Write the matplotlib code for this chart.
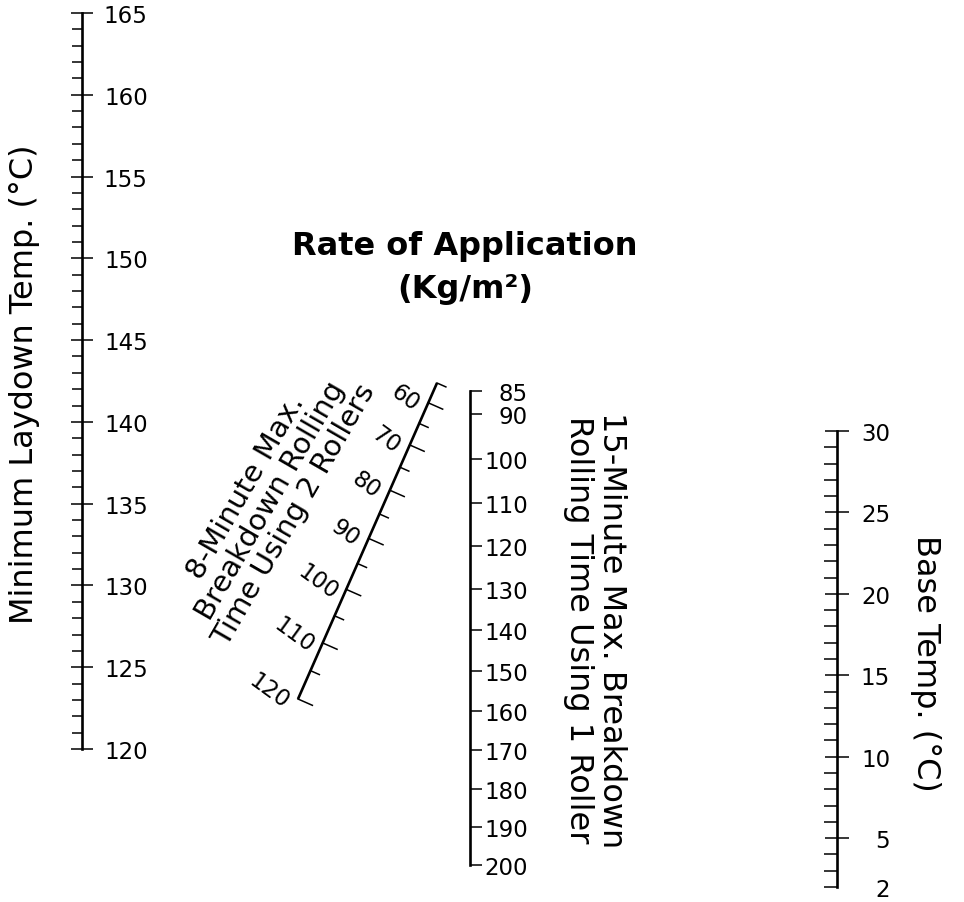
import numpy as np
import matplotlib.pyplot as plt
from matplotlib.ticker import FixedLocator, FuncFormatter

# left scale: minimum laydown temperature (C)
laydown_major = [120, 125, 130, 135, 140, 145, 150, 155, 160, 165]
laydown_minor = list(range(120, 166))
# right scale: base temperature (C)
base_major = [5, 10, 15, 20, 25, 30]
base_minor = list(range(2, 31))
# middle scale: 15-minute rolling time, 1 roller
roll1_ticks = [85, 90, 100, 110, 120, 130, 140, 150, 160, 170, 180, 190, 200]
# slanted scale: 8-minute rolling time, 2 rollers
roll2_major = [60, 70, 80, 90, 100, 110, 120]
roll2_minor = [55, 65, 75, 85, 95, 105, 115]

W, H = 964, 903
fig = plt.figure(figsize=(W / 100, H / 100), dpi=100)
fig.patch.set_facecolor('white')

TICK_FS = 16.5
TITLE_FS = 23


def vscale(x, ytop, ybot):
    # zero-width axes; only the left spine is kept as the scale line
    ax = fig.add_axes([x / W, 1 - ybot / H, 0.0001, (ybot - ytop) / H])
    ax.set_facecolor('none')
    for s in ['top', 'right', 'bottom']:
        ax.spines[s].set_visible(False)
    ax.spines['left'].set_linewidth(1.9)
    ax.set_xticks([])
    return ax


def right_align(ax, which='major'):
    ticks = ax.yaxis.get_major_ticks() if which == 'major' else ax.yaxis.get_minor_ticks()
    for t in ticks:
        t.label2.set_horizontalalignment('right')


# ---- left scale
ax1 = vscale(82, 14, 750)
ax1.set_ylim(min(laydown_major), max(laydown_major))
ax1.yaxis.set_major_locator(FixedLocator(laydown_major))
ax1.yaxis.set_minor_locator(FixedLocator(laydown_minor))
ax1.tick_params(axis='y', which='major', direction='inout', length=16.5, width=1.1,
                left=True, right=False, labelleft=False, labelright=True,
                labelsize=TICK_FS, pad=39)
ax1.tick_params(axis='y', which='minor', direction='out', length=7.2, width=1.1,
                left=True, right=False)
right_align(ax1)

# ---- right scale
ax3 = vscale(837, 432, 888)
ax3.set_ylim(min(base_minor), max(base_minor))
ax3.yaxis.set_major_locator(FixedLocator(base_major))
ax3.yaxis.set_minor_locator(FixedLocator(base_minor))
ax3.yaxis.set_minor_formatter(FuncFormatter(lambda v, p: f'{v:g}' if v == base_minor[0] else ''))
ax3.tick_params(axis='y', which='major', direction='inout', length=17.3, width=1.1,
                left=True, right=False, labelleft=False, labelright=True,
                labelsize=TICK_FS, pad=29.5)
ax3.tick_params(axis='y', which='minor', direction='out', length=9.4, width=1.1,
                left=True, right=False, labelleft=False, labelright=True,
                labelsize=TICK_FS, pad=28.8)
right_align(ax3)
right_align(ax3, 'minor')

# ---- middle scale (slightly non-linear)
ax2 = vscale(470, 392, 866)
ax2.set_yscale('function', functions=(lambda v: np.power(np.abs(v), 0.75),
                                      lambda v: np.power(np.abs(v), 4 / 3)))
ax2.set_ylim(max(roll1_ticks), min(roll1_ticks))
ax2.yaxis.set_major_locator(FixedLocator(roll1_ticks))
ax2.yaxis.set_minor_locator(FixedLocator([]))
ax2.tick_params(axis='y', which='major', direction='out', length=8.6, width=1.1,
                left=False, right=True, labelleft=False, labelright=True,
                labelsize=TICK_FS, pad=33)
right_align(ax2)

# ---- overlay in pixel units for the slanted scale and the titles
ov = fig.add_axes([0, 0, 1, 1])
ov.set_xlim(0, W)
ov.set_ylim(H, 0)
ov.axis('off')
ov.patch.set_alpha(0)

lo, hi = min(roll2_minor + roll2_major), max(roll2_minor + roll2_major)
p0, p1 = np.array([437.0, 384.0]), np.array([298.0, 700.0])
u = (p1 - p0) / np.linalg.norm(p1 - p0)
n = np.array([u[1], -u[0]])  # points to the right of the line


def slant_pos(v):
    f = (v ** 1.5 - lo ** 1.5) / (hi ** 1.5 - lo ** 1.5)
    return p0 + f * (p1 - p0)


ends = np.array([slant_pos(lo), slant_pos(hi)])
ov.plot(ends[:, 0], ends[:, 1], color='k', lw=1.9, solid_capstyle='butt')
for v in roll2_minor:
    a = slant_pos(v)
    b = a + n * 9.7
    ov.plot([a[0], b[0]], [a[1], b[1]], color='k', lw=1.1)
for v in roll2_major:
    a = slant_pos(v)
    b = a + n * 15.7
    ov.plot([a[0], b[0]], [a[1], b[1]], color='k', lw=1.1)
    lab = str(v)
    c = a - n * (13 + 5.5 * len(lab)) + u * 4
    ov.text(c[0], c[1], lab, fontsize=TICK_FS, rotation=-36,
            rotation_mode='anchor', ha='center', va='center')

# ---- titles
ov.text(465, 268, 'Rate of Application\n(Kg/m²)', fontsize=TITLE_FS, fontweight='bold',
        ha='center', va='center', multialignment='center', linespacing=1.5)
ov.text(25, 384, 'Minimum Laydown Temp. (°C)', fontsize=TITLE_FS, rotation=90,
        ha='center', va='center')
ov.text(925, 663, 'Base Temp. (°C)', fontsize=TITLE_FS, rotation=-90,
        ha='center', va='center')
ov.text(595, 630, '15-Minute Max. Breakdown\nRolling Time Using 1 Roller',
        fontsize=TITLE_FS, rotation=-90, ha='center', va='center',
        multialignment='center', linespacing=1.1)
ov.text(270, 501, '8-Minute Max.\nBreakdown Rolling\nTime Using 2 Rollers',
        fontsize=21, rotation=60, rotation_mode='anchor', ha='center', va='center',
        multialignment='center', linespacing=1.0)

fig.savefig('out.png', dpi=100)
